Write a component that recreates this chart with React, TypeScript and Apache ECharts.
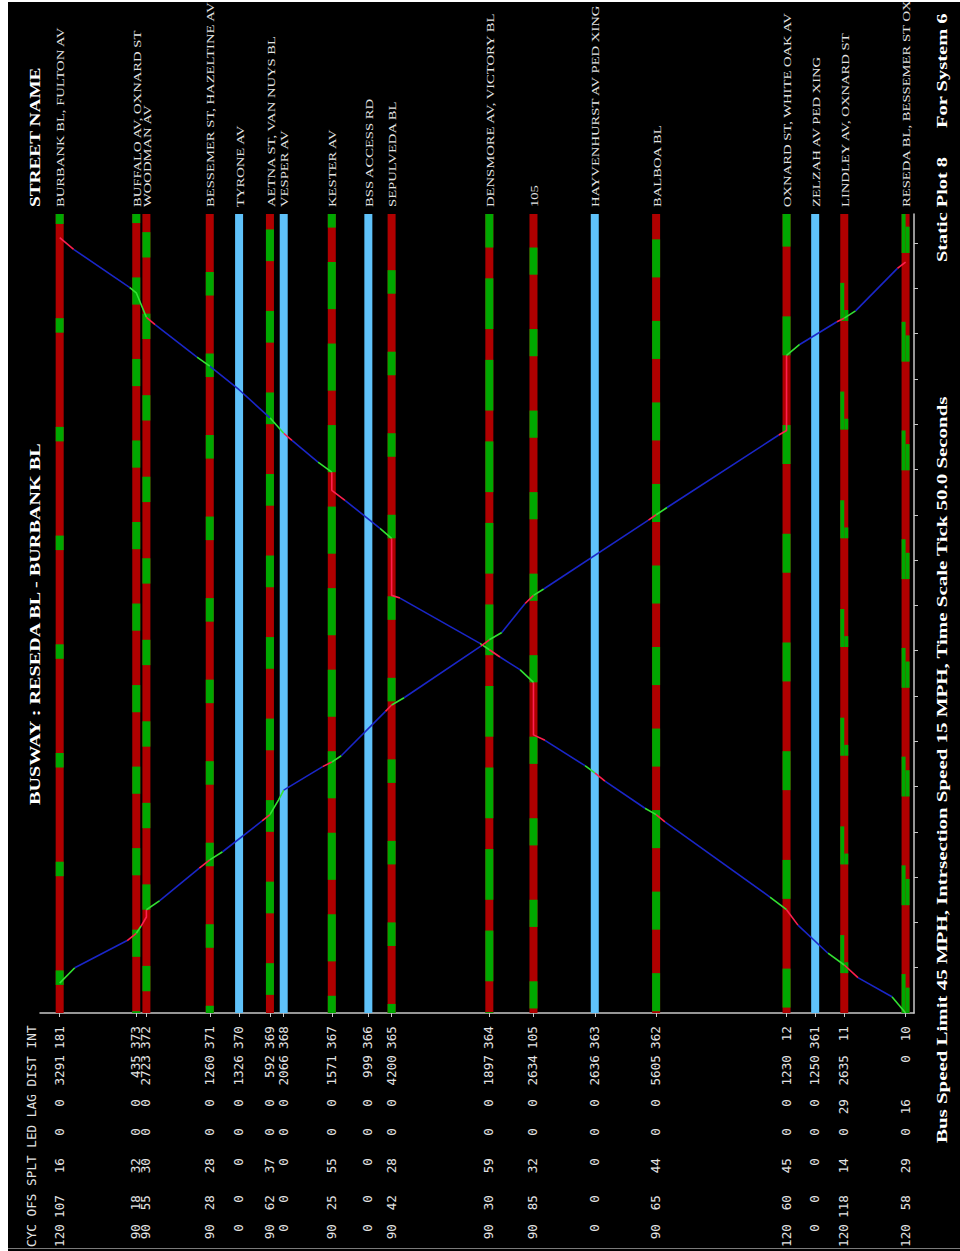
import React, { useEffect, useRef } from "react";
import * as echarts from "echarts";

// ---------------- data ----------------
const INT_IDS = ["181", "373", "372", "371", "370", "369", "368", "367", "366", "365", "364", "105", "363", "362", "12", "361", "11", "10"];
const STREET_NAMES = [
  "BURBANK BL, FULTON AV",
  "BUFFALO AV, OXNARD ST",
  "WOODMAN AV",
  "BESSEMER ST, HAZELTINE AV",
  "TYRONE AV",
  "AETNA ST, VAN NUYS BL",
  "VESPER AV",
  "KESTER AV",
  "BSS ACCESS RD",
  "SEPULVEDA BL",
  "DENSMORE AV, VICTORY BL",
  "105",
  "HAYVENHURST AV PED XING",
  "BALBOA BL",
  "OXNARD ST, WHITE OAK AV",
  "ZELZAH AV PED XING",
  "LINDLEY AV, OXNARD ST",
  "RESEDA BL, BESSEMER ST OX",
];
const CYC = [120, 90, 90, 90, 0, 90, 0, 90, 0, 90, 90, 90, 0, 90, 120, 0, 120, 120];
const OFS = [107, 18, 55, 28, 0, 62, 0, 25, 0, 42, 30, 85, 0, 65, 60, 0, 118, 58];
const SPLT = [16, 32, 30, 28, 0, 37, 0, 55, 0, 28, 59, 32, 0, 44, 45, 0, 14, 29];
const LED = [0, 0, 0, 0, 0, 0, 0, 0, 0, 0, 0, 0, 0, 0, 0, 0, 0, 0];
const LAG = [0, 0, 0, 0, 0, 0, 0, 0, 0, 0, 0, 0, 0, 0, 0, 0, 29, 16];
const DIST = [3291, 435, 2723, 1260, 1326, 592, 2066, 1571, 999, 4200, 1897, 2634, 2636, 5605, 1230, 1250, 2635, 0];

// green windows (seconds): first green start, green length
const GREEN_START = [31, 62, 24, 72, null, 20, null, 57, null, 74, 35, 5, null, 2, 6, null, 44, 119];
const GREEN_LEN = [16, 30, 28, 26, null, 35, null, 52, null, 26, 56, 30, null, 42, 43, null, 42, 44];
// second half of split bars
const GREEN_START_R = [null, null, null, null, null, null, null, null, null, null, null, null, null, null, null, null, 44, 119];
const GREEN_LEN_R = [null, null, null, null, null, null, null, null, null, null, null, null, null, null, null, null, 12, 29];

const TIME_TICKS = [50, 100, 150, 200, 250, 300, 350, 400, 450, 500, 550, 600, 650, 700, 750, 800, 850];
const T_MAX = 882;
const X_MIN = -846;
const X_MAX = 36712;

// trajectories: [distance ft, time s, segment kind to next point] a=accel, c=cruise, d=decel
const TRAJ_A: [number, number, string][] = [
  [36350, 0, "a"], [35764, 18, "c"], [34303, 39, "d"], [33715, 53, "a"], [33014, 66, "c"],
  [31725, 97, "d"], [31235, 114, "a"], [30522, 128, "c"], [26010, 211, "d"], [25630, 219, "a"],
  [25150, 226, "c"], [23432, 256, "d"], [22994, 265, "a"], [22572, 273, "c"], [20853, 301, "d"],
  [20360, 307, "d"], [20360, 365, "a"], [19779, 379, "c"], [18920, 393, "d"], [18463, 401, "a"],
  [18060, 408, "c"], [14623, 458, "d"], [14263, 461, "d"], [14263, 524, "a"], [13763, 535, "c"],
  [12259, 566, "d"], [11693, 577, "d"], [11693, 597, "a"], [11099, 608, "c"], [9982, 632, "d"],
  [9627, 640, "a"], [9035, 657, "c"], [7709, 688, "c"], [6449, 714, "a"], [5900, 724, "c"],
  [4100, 760, "d"], [3726, 768, "a"], [3291, 795, "a"], [3000, 801, "c"], [600, 843, "d"], [0, 856, "d"],
];
const TRAJ_B: [number, number, string][] = [
  [0, 33, "a"], [650, 50, "c"], [2900, 80, "d"], [3291, 88, "a"], [3500, 96, "d"], [3726, 106, "d"],
  [3726, 114, "a"], [4300, 124, "c"], [6000, 160, "d"], [6449, 169, "a"], [7000, 178, "c"],
  [8700, 212, "d"], [9035, 219, "a"], [9400, 235, "a"], [9627, 246, "c"], [11300, 272, "d"],
  [11693, 277, "a"], [12100, 284, "c"], [14000, 333, "d"], [14263, 340, "a"], [14800, 348, "c"],
  [18100, 405, "d"], [18463, 412, "a"], [19000, 420, "c"], [20000, 452, "d"], [20360, 461, "a"],
  [20800, 468, "c"], [25300, 544, "d"], [25630, 550, "a"], [26100, 558, "c"], [30900, 638, "d"],
  [31235, 643, "d"], [31235, 726, "a"], [31800, 738, "c"], [33400, 763, "d"], [33715, 767, "a"],
  [34200, 775, "c"], [36000, 822, "d"], [36350, 829, "d"],
];

// ---------------- styling ----------------
const BAR_RED = "#b00000";
const BAR_GREEN = "#00a800";
const PED_BLUE = "#5fc2fa";
const LINE_COLORS: Record<string, string> = { a: "#33e233", c: "#1a26c8", d: "#ff1f4f" };
const TEXT_COL = "#e4e4e4";

const OX = 8;
const OY = 2;

function measure(text: string, font: string) {
  const c = document.createElement("canvas").getContext("2d")!;
  c.font = font;
  return c.measureText(text).width;
}

function trajSeries(traj: [number, number, string][]) {
  const res: any[] = [];
  let i = 0;
  while (i < traj.length - 1) {
    const code = traj[i][2];
    const pts: number[][] = [[traj[i][0], traj[i][1]]];
    let j = i + 1;
    while (j < traj.length) {
      pts.push([traj[j][0], traj[j][1]]);
      if (j === traj.length - 1 || traj[j][2] !== code) break;
      j++;
    }
    res.push({
      type: "line",
      data: pts,
      symbol: "none",
      smooth: false,
      silent: true,
      z: 10,
      lineStyle: { color: LINE_COLORS[code], width: 1.6 },
    });
    i = j;
  }
  return res;
}

export default function App() {
  const ref = useRef<HTMLDivElement>(null);
  useEffect(() => {
    const el = ref.current!;
    const chart = echarts.init(el, undefined, { renderer: "svg" });

    const POS: number[] = [];
    let acc = 0;
    for (let i = 0; i < DIST.length; i++) {
      POS.push(acc);
      acc += DIST[i];
    }

    // bar segments: [x, t0, t1, colorIdx, half]
    const bars: number[][] = [];
    for (let i = 0; i < POS.length; i++) {
      if (CYC[i] === 0) {
        bars.push([POS[i], 0, T_MAX, 2, 0]);
        continue;
      }
      bars.push([POS[i], 0, T_MAX, 0, 0]);
      const addGreens = (start: number | null, len: number | null, half: number) => {
        if (start == null || len == null) return;
        let s = start;
        while (s > 0) s -= CYC[i];
        for (; s < T_MAX; s += CYC[i]) {
          const a = Math.max(0, s);
          const b = Math.min(T_MAX, s + len);
          if (b > a) bars.push([POS[i], a, b, 1, half]);
        }
      };
      if (GREEN_START_R[i] != null) {
        addGreens(GREEN_START[i], GREEN_LEN[i], 1);
        addGreens(GREEN_START_R[i], GREEN_LEN_R[i], 2);
      } else {
        addGreens(GREEN_START[i], GREEN_LEN[i], 0);
      }
    }
    const barColors = [BAR_RED, BAR_GREEN, PED_BLUE];

    const axisCol = "#c8c8c8";
    chart.setOption({
      backgroundColor: "#000",
      animation: false,
      grid: { left: 32, right: 46, top: 212, bottom: 238, containLabel: false },
      xAxis: {
        type: "value",
        min: X_MIN,
        max: X_MAX,
        position: "bottom",
        axisLine: { show: true, onZero: false, lineStyle: { color: axisCol, width: 1.5 } },
        axisTick: { show: true, customValues: POS, length: 4, inside: false, lineStyle: { color: axisCol, width: 1 } },
        axisLabel: { show: false },
        splitLine: { show: false },
      },
      yAxis: {
        type: "value",
        min: 0,
        max: T_MAX,
        position: "right",
        axisLine: { show: true, onZero: false, lineStyle: { color: axisCol, width: 1.5 } },
        axisTick: { show: true, customValues: TIME_TICKS, length: 4, inside: false, lineStyle: { color: axisCol, width: 1 } },
        axisLabel: { show: false },
        splitLine: { show: false },
      },
      series: [
        {
          type: "custom",
          coordinateSystem: "cartesian2d",
          silent: true,
          z: 2,
          encode: { x: 0, y: 1 },
          data: bars,
          renderItem: (params: any, api: any) => {
            const p0 = api.coord([api.value(0), api.value(1)]);
            const p1 = api.coord([api.value(0), api.value(2)]);
            const half = api.value(4);
            const W = 8;
            let left = p0[0] - W / 2;
            let width = W;
            if (half === 1) width = W / 2;
            else if (half === 2) {
              left = p0[0];
              width = W / 2;
            }
            return {
              type: "rect",
              shape: { x: left, y: Math.min(p0[1], p1[1]), width, height: Math.abs(p0[1] - p1[1]) },
              style: { fill: barColors[api.value(3)] },
            };
          },
        },
        ...trajSeries(TRAJ_A),
        ...trajSeries(TRAJ_B),
      ],
    });

    // texts
    const xs = POS.map((p) => chart.convertToPixel({ xAxisIndex: 0 }, p) as number);
    const g: any[] = [];
    const rotText = (text: string, x: number, y: number, opts: any) => {
      const size = opts.size;
      const family = opts.family;
      const weight = opts.weight || "normal";
      let sx = opts.scale || 1;
      if (opts.length) {
        const w = measure(text, `${weight} ${size}px "${family}"`);
        if (w > 0) sx = opts.length / w;
      }
      const align = opts.align || "left";
      g.push({
        type: "text",
        x,
        y,
        rotation: Math.PI / 2,
        scaleX: sx,
        silent: true,
        z: 20,
        style: {
          text,
          fill: opts.color || TEXT_COL,
          fontSize: size,
          fontFamily: family,
          fontWeight: weight,
          align,
          textAlign: align,
          verticalAlign: "middle",
          textVerticalAlign: "middle",
        },
      });
    };

    const SERIF = "Liberation Serif";
    const MONO = "DejaVu Sans Mono";
    // street names
    STREET_NAMES.forEach((n, i) => {
      rotText(n, xs[i] + 0.8, 207 - OY, { size: 11, family: SERIF, scale: 1.33 });
    });
    rotText("STREET NAME", 35 - OX, 207 - OY, { size: 15, family: SERIF, weight: "bold", length: 140, color: "#fff" });
    rotText("BUSWAY : RESEDA BL - BURBANK BL", 35 - OX, 805 - OY, { size: 15, family: SERIF, weight: "bold", length: 365, color: "#fff" });
    rotText("Bus Speed Limit 45 MPH, Intrsection Speed 15 MPH, Time Scale Tick 50.0 Seconds", 942 - OX, 1143 - OY, {
      size: 15, family: SERIF, weight: "bold", length: 748, color: "#fff",
    });
    rotText("Static Plot 8", 942 - OX, 262 - OY, { size: 15, family: SERIF, weight: "bold", length: 105, color: "#fff" });
    rotText("For System 6", 942 - OX, 128 - OY, { size: 15, family: SERIF, weight: "bold", length: 115, color: "#fff" });

    // table
    rotText("CYC OFS SPLT LED LAG DIST INT", 31 - OX, 1247 - OY, { size: 12.7, family: MONO });
    const rows: [any[], number][] = [
      [INT_IDS, 1026],
      [DIST, 1055],
      [LAG, 1099],
      [LED, 1128],
      [SPLT, 1158],
      [OFS, 1195],
      [CYC, 1224],
    ];
    rows.forEach(([arr, top]) => {
      arr.forEach((v, i) => {
        rotText(String(v), xs[i] - 0.5, top - OY, { size: 12.7, family: MONO, align: "right" });
      });
    });

    g.push({
      type: "line",
      silent: true,
      shape: { x1: 0, y1: 1248.5 - OY, x2: 952, y2: 1248.5 - OY },
      style: { stroke: "#7a7a7a", lineWidth: 1 },
    });

    chart.setOption({ graphic: g });

    return () => chart.dispose();
  }, []);

  return <div ref={ref} style={{ position: "absolute", left: OX, top: OY, width: 952, height: 1249 }} />;
}
